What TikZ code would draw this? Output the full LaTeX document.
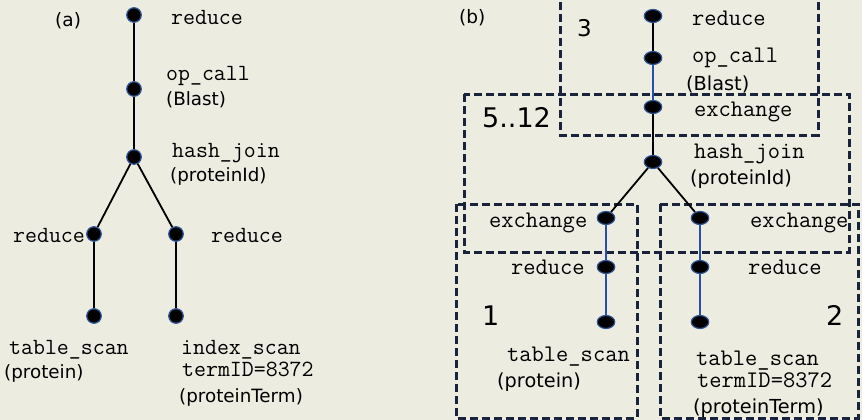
\documentclass[tikz,border=0pt]{standalone}
\usepackage{fontspec}
\setmainfont{DejaVu Sans}
\usetikzlibrary{shapes.geometric}
\definecolor{paper}{RGB}{236,236,224}
\definecolor{ring}{RGB}{45,85,150}
\definecolor{flow}{RGB}{40,80,165}
\definecolor{frame}{RGB}{25,35,60}
\tikzset{
  dota/.style={circle, fill=black, draw=ring, line width=1.2pt, minimum size=14.5pt, inner sep=0pt},
  dotb/.style={ellipse, fill=black, draw=ring, line width=1.2pt, minimum width=17.5pt, minimum height=13pt, inner sep=0pt},
  opa/.style={anchor=base west, inner sep=0pt, font=\ttfamily\fontsize{23.2}{27}\selectfont},
  opb/.style={anchor=base west, inner sep=0pt, font=\ttfamily\fontsize{23.8}{28}\selectfont},
  arga/.style={anchor=base west, inner sep=0pt, font=\fontsize{18.3}{22}\selectfont},
  argb/.style={anchor=base west, inner sep=0pt, font=\fontsize{19.3}{23}\selectfont},
  tag/.style={anchor=base west, inner sep=0pt, font=\fontsize{18.5}{21}\selectfont},
  part/.style={anchor=base west, inner sep=0pt, font=\fontsize{27}{32}\selectfont},
  edge/.style={line width=1.8pt, black},
  pipe/.style={line width=1.6pt, flow},
  zone/.style={draw=frame, line width=3pt, dash pattern=on 8pt off 4pt},
}
\begin{document}
\begin{tikzpicture}[x=1pt, y=-1pt]
  \useasboundingbox (0,0) rectangle (862,420);
  \fill[paper] (0,0) rectangle (862,420);
  \clip (0,0) rectangle (862,420);

  % ---------- (a) plan tree ----------
  \node[tag] (ta) at (55,27) {(a)};
  \node[dota] (a1) at (134,15) {};
  \node[dota] (a2) at (134,89) {};
  \node[dota] (a3) at (134,157) {};
  \node[dota] (a4) at (94,234) {};
  \node[dota] (a5) at (176,234) {};
  \node[dota] (a6) at (94,316) {};
  \node[dota] (a7) at (176,316) {};
  \draw[edge] (a1) -- (a2);
  \draw[edge] (a2) -- (a3);
  \draw[edge] (a3) -- (a4);
  \draw[edge] (a3) -- (a5);
  \draw[edge] (a4) -- (a6);
  \draw[edge] (a5) -- (a7);

  \node[opa] (la1) at (171,25) {reduce};
  \node[opa] (la2) at (166,81) {op\_call};
  \node[arga] (la2b) at (166,105) {(Blast)};
  \node[opa] (la3) at (172,157) {hash\_join};
  \node[arga] (la3b) at (170,181) {(proteinId)};
  \node[opa] (la4) at (13,242) {reduce};
  \node[opa] (la5) at (211,242) {reduce};
  \node[opa] (la6) at (9,354) {table\_scan};
  \node[arga] (la6b) at (4,378) {(protein)};
  \node[opa] (la7) at (181,354) {index\_scan};
  \node[opa] (la7b) at (182,376) {termID=8372};
  \node[arga] (la7c) at (179,402) {(proteinTerm)};

  % ---------- (b) parallel plan ----------
  \node[tag] (tb) at (459,24) {(b)};

  % fragment zones
  \draw[zone] (560,-10) rectangle (818,135);
  \draw[zone] (464,94) rectangle (849,252);
  \draw[zone] (456,204) rectangle (637,418);
  \draw[zone] (660,204) rectangle (858,418);

  \node[part, font=\fontsize{23}{28}\selectfont] (n3) at (577,37) {3};
  \node[part] (n512) at (482,127) {5..12};
  \node[part] (n1) at (482,325) {1};
  \node[part] (n2) at (826,325) {2};

  \node[dotb] (b1) at (653,16) {};
  \node[dotb] (b2) at (653,58) {};
  \node[dotb] (b3) at (653,107) {};
  \node[dotb] (b4) at (653,162) {};
  \node[dotb] (b5) at (606,218) {};
  \node[dotb] (b6) at (606,267) {};
  \node[dotb] (b7) at (606,322) {};
  \node[dotb] (b8) at (700,218) {};
  \node[dotb] (b9) at (700,267) {};
  \node[dotb] (b10) at (700,322) {};
  \draw[edge] (b1) -- (b2);
  \draw[pipe] (b2) -- (b3);
  \draw[edge] (b3) -- (b4);
  \draw[edge] (b4) -- (b5);
  \draw[edge] (b4) -- (b8);
  \draw[pipe] (b5) -- (b6);
  \draw[pipe] (b6) -- (b7);
  \draw[pipe] (b8) -- (b9);
  \draw[pipe] (b9) -- (b10);

  \node[opb] (lb1) at (692,26) {reduce};
  \node[opb] (lb2) at (692,63) {op\_call};
  \node[argb] (lb2b) at (686,91) {(Blast)};
  \node[opb] (lb3) at (694,116) {exchange};
  \node[opb] (lb4) at (694,158) {hash\_join};
  \node[argb] (lb4b) at (690,184) {(proteinId)};
  \node[opb] (lb5) at (489,227) {exchange};
  \node[opb] (lb6) at (511,274) {reduce};
  \node[opb] (lb7) at (507,361) {table\_scan};
  \node[argb] (lb7b) at (497,387) {(protein)};
  \node[opb] (lb8) at (750,227) {exchange};
  \node[opb] (lb9) at (748,274) {reduce};
  \node[opb] (lb10) at (696,365) {table\_scan};
  \node[opb] (lb10b) at (697,387) {termID=8372};
  \node[argb] (lb10c) at (693,413) {(proteinTerm)};
\end{tikzpicture}
\end{document}
